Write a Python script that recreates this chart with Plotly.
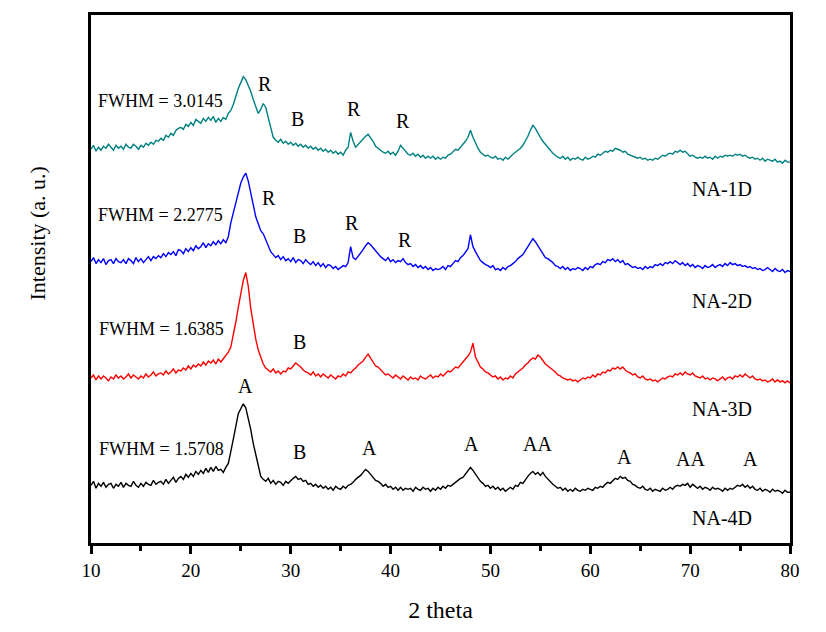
import plotly.graph_objects as go

# 2-theta sampling grid (degrees), 0.25 deg step from 10 to 80
THETA_START = 10.0
THETA_STEP = 0.25
N_POINTS = 281
two_theta = [round(THETA_START + THETA_STEP * i, 2) for i in range(N_POINTS)]

# Intensities (a.u.), one row per degree (x.00, x.25, x.50, x.75)
na4d_rows = [
    [18,22,15,20],[17,21,16,19],[20,15,19,17],[21,16,20,18],[17,22,18,16],
    [20,17,21,19],[18,23,19,21],[22,19,24,20],[23,26,21,25],[27,24,29,26],
    [30,27,32,29],[33,30,35,31],[36,32,37,33],[34,31,36,40],[52,63,77,90],
    [95,100,96,86],[74,60,48,36],[27,24,22,25],[20,23,19,22],[21,18,22,20],
    [23,25,27,24],[25,22,23,19],[20,17,19,16],[18,15,17,14],[16,13,17,15],
    [14,17,15,18],[19,21,24,26],[28,31,34,32],[29,27,23,22],[20,17,19,16],
    [17,14,16,13],[16,13,15,14],[15,12,16,14],[13,16,14,15],[12,15,13,16],
    [14,17,15,18],[17,19,21,23],[25,26,29,33],[36,33,29,26],[22,20,17,18],
    [15,17,14,16],[13,15,12,14],[16,14,18,17],[21,20,24,27],[30,32,29,31],
    [28,31,27,24],[21,19,17,15],[16,13,15,12],[14,12,15,13],[12,14,13,15],
    [14,13,16,15],[17,16,19,21],[20,23,25,24],[27,25,26,23],[22,19,18,16],
    [15,17,14,13],[15,12,14,13],[12,15,13,14],[16,14,17,18],[17,19,18,20],
    [16,19,17,15],[17,14,16,15],[13,16,14,15],[14,12,15,13],[15,14,16,18],
    [17,19,16,18],[15,17,14,13],[15,12,14,13],[11,14,12,13],[12,10,13,11],
    [11],
]
na3d_rows = [
    [16,19,14,18],[15,18,16,13],[17,15,19,16],[18,15,17,20],[16,19,17,15],
    [18,16,20,17],[19,22,18,20],[21,19,23,20],[22,25,21,24],[23,26,24,28],
    [25,29,27,30],[28,32,29,33],[31,34,30,35],[32,35,38,42],[47,58,72,87],
    [100,114,122,108],[86,70,55,44],[36,30,26,24],[22,25,21,23],[20,23,22,26],
    [25,28,31,29],[27,24,22,21],[19,22,18,20],[17,20,18,16],[19,17,15,18],
    [17,20,18,22],[21,24,26,29],[31,33,37,40],[36,32,28,27],[24,22,19,20],
    [18,16,19,17],[15,18,16,14],[17,15,16,14],[18,16,15,17],[19,16,18,17],
    [20,18,21,23],[22,25,27,26],[29,31,34,38],[42,51,37,32],[27,25,22,21],
    [19,17,18,15],[17,14,16,15],[18,16,20,22],[24,26,29,31],[34,36,35,39],
    [37,33,30,28],[26,24,22,19],[18,16,15,14],[15,13,14,12],[14,16,15,17],
    [16,19,17,20],[19,22,21,24],[23,26,25,27],[25,27,24,22],[21,19,20,17],
    [16,18,15,14],[15,13,14,12],[14,16,15,17],[18,17,20,19],[21,19,22,20],
    [19,21,18,17],[16,18,15,16],[14,16,15,13],[15,17,14,16],[17,15,18,17],
    [19,17,20,18],[16,18,15,14],[15,13,14,12],[13,15,12,14],[12,13,11,13],
    [11],
]
na2d_rows = [
    [23,27,21,25],[22,26,20,24],[25,21,26,23],[22,25,21,26],[24,21,27,23],
    [26,22,25,28],[24,28,26,29],[27,31,28,32],[30,33,29,35],[34,31,36,33],
    [37,34,39,36],[38,42,37,41],[39,43,40,44],[41,45,42,48],[62,72,84,95],
    [102,108,112,104],[90,80,68,60],[54,51,45,38],[33,30,27,29],[25,28,24,26],
    [23,27,22,25],[24,21,25,22],[20,23,19,22],[18,21,17,20],[19,16,18,15],
    [17,19,18,22],[38,27,25,28],[31,35,39,42],[40,37,33,30],[28,26,24,27],
    [23,25,22,24],[23,26,22,20],[21,18,20,17],[19,16,18,15],[17,14,16,15],
    [16,18,15,19],[18,21,24,23],[27,29,33,36],[50,38,33,28],[24,22,20,19],
    [17,19,15,16],[14,17,15,18],[19,21,23,26],[28,30,34,38],[42,46,43,39],
    [35,31,27,26],[24,22,19,18],[16,18,15,17],[14,16,15,17],[16,14,17,15],
    [18,17,20,21],[20,23,22,25],[24,26,23,25],[22,24,20,21],[19,17,18,16],
    [17,15,18,16],[18,17,20,19],[21,19,22,21],[23,21,24,22],[20,22,19,21],
    [18,20,17,19],[18,16,19,17],[18,20,17,19],[20,18,21,19],[22,20,21,19],
    [20,18,19,17],[18,16,17,15],[16,14,15,17],[15,13,16,14],[13,15,12,14],
    [13],
]
na1d_rows = [
    [26,30,24,28],[25,29,27,31],[28,25,30,27],[29,26,31,28],[27,31,29,26],
    [30,28,32,30],[33,31,35,34],[37,35,40,38],[42,40,45,47],[48,46,51,49],
    [53,50,56,54],[52,57,54,58],[55,59,53,57],[54,58,56,62],[65,71,80,87],
    [93,99,96,90],[84,76,68,62],[66,72,68,58],[47,38,35,33],[36,32,34,31],
    [33,30,32,29],[31,28,30,27],[29,26,28,25],[27,24,26,23],[25,22,24,21],
    [23,20,25,28],[43,34,28,31],[33,36,39,41],[38,34,29,27],[25,23,22,24],
    [21,23,20,24],[30,27,23,21],[20,22,19,21],[18,20,17,19],[17,19,16,18],
    [16,18,17,20],[21,24,26,25],[28,30,34,38],[45,38,32,27],[23,21,19,20],
    [18,17,19,16],[17,15,18,16],[19,21,23,25],[27,30,34,39],[45,50,47,42],
    [38,34,31,27],[24,22,20,18],[17,19,16,18],[15,17,16,18],[16,15,18,16],
    [17,19,18,21],[20,22,24,23],[25,24,27,26],[25,23,24,21],[20,19,18,17],
    [18,16,17,15],[16,15,17,16],[18,20,19,21],[22,21,24,23],[25,23,24,21],
    [19,20,18,17],[18,17,19,17],[18,16,19,17],[19,18,20,19],[20,19,21,20],
    [21,19,20,18],[17,18,16,17],[15,17,14,16],[15,14,16,13],[14,12,15,13],
    [13],
]

def flat(rows):
    return [v for r in rows for v in r]

na1d = flat(na1d_rows)
na2d = flat(na2d_rows)
na3d = flat(na3d_rows)
na4d = flat(na4d_rows)

series_names = ["NA-1D", "NA-2D", "NA-3D", "NA-4D"]
series_values = [na1d, na2d, na3d, na4d]
stack_offsets = [370, 260, 150, 40]
series_colors = ["#008080", "#0000FF", "#FF0000", "#000000"]
x_tick_vals = [10, 20, 30, 40, 50, 60, 70, 80]

FONT = "Liberation Serif, Times New Roman, serif"

fig = go.Figure()
for name, vals, off, col in zip(series_names, series_values, stack_offsets, series_colors):
    fig.add_trace(go.Scatter(
        x=two_theta[:len(vals)], y=[v + off for v in vals], mode="lines",
        name=name, line=dict(color=col, width=1.4), showlegend=False,
    ))

ann = []
def txt(x, y, t, size=20, xanchor="center"):
    ann.append(dict(x=x, y=y, xref="x", yref="y", text=t, showarrow=False,
                    xanchor=xanchor, yanchor="middle",
                    font=dict(family=FONT, size=size, color="black")))

# NA-1D
txt(10.55, 445, "FWHM = 3.0145", 18, "left")
txt(27.4, 462, "R"); txt(30.7, 426, "B"); txt(36.3, 436, "R"); txt(41.2, 424, "R")
txt(73.2, 356, "NA-1D")
# NA-2D
txt(10.55, 330, "FWHM = 2.2775", 18, "left")
txt(27.8, 347, "R"); txt(30.9, 309, "B"); txt(36.1, 322, "R"); txt(41.4, 305, "R")
txt(73.2, 243, "NA-2D")
# NA-3D
txt(10.65, 215, "FWHM = 1.6385", 18, "left")
txt(30.9, 202, "B")
txt(73.2, 135, "NA-3D")
# NA-4D
txt(25.5, 158, "A")
txt(10.65, 95, "FWHM = 1.5708", 18, "left")
txt(30.9, 92, "B"); txt(37.9, 96, "A"); txt(48.1, 100, "A"); txt(54.7, 100, "AA")
txt(63.4, 86, "A"); txt(70.0, 84, "AA"); txt(76.0, 84, "A")
txt(73.2, 25, "NA-4D")

# y-axis title
ann.append(dict(x=-0.076, y=0.586, xref="paper", yref="paper", text="Intensity (a. u.)",
                textangle=-90, showarrow=False, xanchor="center", yanchor="middle",
                font=dict(family=FONT, size=22, color="black")))

fig.update_layout(
    width=826, height=632,
    margin=dict(l=83, r=44, t=4, b=97),
    paper_bgcolor="white", plot_bgcolor="white",
    annotations=ann,
    font=dict(family=FONT, color="black"),
)
fig.update_xaxes(
    range=[10, 80], tickvals=x_tick_vals, ticks="outside", ticklen=8, tickwidth=3,
    tickcolor="black", tickfont=dict(family=FONT, size=19, color="black"),
    minor=dict(dtick=5, tick0=0, ticks="outside", ticklen=5, tickwidth=3, tickcolor="black"),
    showline=True, linecolor="black", linewidth=3, mirror=True,
    showgrid=False, zeroline=False,
    title=dict(text="2 theta", font=dict(family=FONT, size=24, color="black"), standoff=22),
)
fig.update_yaxes(
    range=[0, 531], showticklabels=False, ticks="",
    showline=True, linecolor="black", linewidth=3, mirror=True,
    showgrid=False, zeroline=False,
)

fig.write_html("out.html")
